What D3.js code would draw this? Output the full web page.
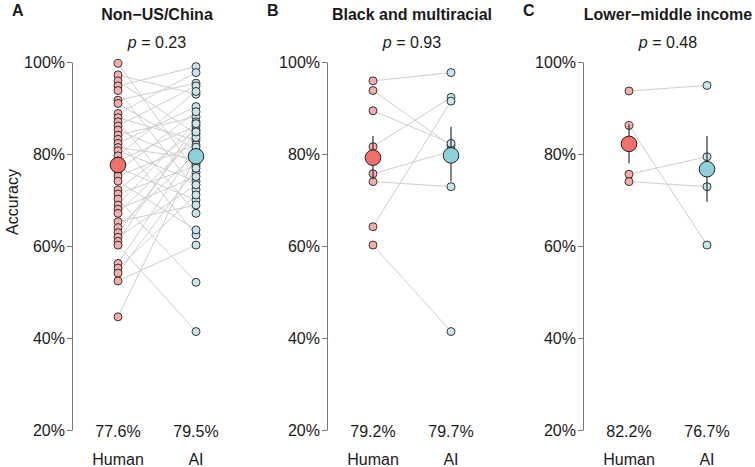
<!DOCTYPE html>
<html>
<head>
<meta charset="utf-8">
<script src="https://cdn.jsdelivr.net/npm/d3@7"></script>
<style>
body { margin: 0; background: #fff; }
text { font-family: "Liberation Sans", Arial, sans-serif; fill: #1a1a1a; }
</style>
</head>
<body>
<svg id="plot" width="755" height="467"></svg>
<script>
// groups shown in the three panels
const panels = ['A', 'B', 'C'];
const titles = ['Non\u2212US/China', 'Black and multiracial', 'Lower\u2212middle income'];
const pValues = ['0.23', '0.93', '0.48'];
const conditions = ['Human', 'AI'];
const yTicks = [20, 40, 60, 80, 100];

// paired accuracies (%), index i in human goes with index i in ai
const humanA = [99.7, 97.2, 95.9, 94.8, 93.8, 91.7, 91.0, 88.8, 87.9, 87.0, 86.1, 85.2, 84.1, 83.2, 82.3, 81.4, 80.7, 79.6, 78.5, 77.0,
  76.2, 75.2, 74.1, 72.2, 71.3, 70.2, 68.9, 68.0, 67.1, 65.3, 64.0, 62.9, 61.9, 61.0, 60.2, 56.2, 55.2, 54.1, 52.4, 44.6];
const aiA = [76.0, 93.0, 84.3, 99.0, 72.2, 95.4, 80.9, 97.7, 83.0, 67.1, 94.8, 78.0, 88.1, 62.4, 90.3, 79.0, 74.1, 93.6, 86.1, 70.0,
  89.2, 82.0, 63.5, 85.2, 77.5, 52.1, 87.0, 75.1, 83.6, 68.9, 80.2, 84.8, 73.3, 86.6, 41.4, 81.5, 71.1, 76.9, 60.2, 79.6];
const humanB = [95.9, 93.8, 89.4, 81.6, 75.7, 74.0, 64.2, 60.2];
const aiB = [97.7, 81.8, 82.3, 92.3, 80.6, 72.9, 91.5, 41.4];
const humanC = [93.7, 86.2, 75.6, 74.0];
const aiC = [94.9, 60.2, 79.4, 72.9];

// group means and error bar ends (%)
const humanMean = [77.6, 79.2, 82.2];
const aiMean = [79.5, 79.7, 76.7];
const humanLo = [76.0, 74.5, 78.0];
const humanHi = [79.2, 83.9, 86.4];
const aiLo = [78.0, 74.0, 69.6];
const aiHi = [81.0, 85.9, 83.9];

const humanSets = [humanA, humanB, humanC];
const aiSets = [aiA, aiB, aiC];

const svg = d3.select('#plot');
const axisX = [72, 327, 583];

const yScale = d3.scaleLinear()
  .domain([20, 100])
  .range([430, 62]);

const col = {
  humanPt: '#f5aeaa', humanMean: '#f2706a',
  aiPt: '#c7e6ee', aiMean: '#8fcfd9'
};

panels.forEach((letter, p) => {
  const x0 = axisX[p];
  const xScale = d3.scalePoint()
    .domain(conditions)
    .range([x0 + 46, x0 + 124]);
  const mid = (xScale('Human') + xScale('AI')) / 2;

  const g = svg.append('g');

  // y axis
  const axis = g.append('g')
    .attr('transform', `translate(${x0}, 0)`)
    .call(d3.axisLeft(yScale)
      .tickValues(yTicks)
      .tickFormat((d) => d + '%')
      .tickSize(5)
      .tickSizeOuter(0));
  axis.select('.domain').attr('stroke', '#777');
  axis.selectAll('.tick line').attr('stroke', '#777');
  axis.selectAll('.tick text')
    .attr('font-size', 16)
    .attr('font-family', '"Liberation Sans", Arial, sans-serif')
    .attr('fill', '#1a1a1a')
    .attr('x', -7);

  // headings
  g.append('text')
    .attr('x', x0 - 60)
    .attr('y', 16)
    .attr('font-size', 16)
    .attr('font-weight', 'bold')
    .text(letter);

  g.append('text')
    .attr('x', mid)
    .attr('y', 20)
    .attr('text-anchor', 'middle')
    .attr('font-size', 16)
    .attr('font-weight', 'bold')
    .text(titles[p]);

  const pt = g.append('text')
    .attr('x', mid)
    .attr('y', 48)
    .attr('text-anchor', 'middle')
    .attr('font-size', 16);
  pt.append('tspan').attr('font-style', 'italic').text('p');
  pt.append('tspan').text(' = ' + pValues[p]);

  const hum = humanSets[p];
  const ai = aiSets[p];
  const pairs = hum.map((h, i) => ({ h: h, a: ai[i] }));

  // paired lines
  g.selectAll('.pair')
    .data(pairs)
    .enter()
    .append('line')
    .attr('x1', xScale('Human'))
    .attr('x2', xScale('AI'))
    .attr('y1', (d) => yScale(d.h))
    .attr('y2', (d) => yScale(d.a))
    .attr('stroke', '#cfcfcf')
    .attr('stroke-width', 1);

  // individual points
  g.selectAll('.hpt')
    .data(hum)
    .enter()
    .append('circle')
    .attr('cx', xScale('Human'))
    .attr('cy', (d) => yScale(d))
    .attr('r', 4)
    .attr('fill', col.humanPt)
    .attr('stroke', '#222')
    .attr('stroke-width', 0.9);

  g.selectAll('.apt')
    .data(ai)
    .enter()
    .append('circle')
    .attr('cx', xScale('AI'))
    .attr('cy', (d) => yScale(d))
    .attr('r', 4)
    .attr('fill', col.aiPt)
    .attr('stroke', '#222')
    .attr('stroke-width', 0.9);

  // error bars + means
  const summary = [
    { c: 'Human', m: humanMean[p], lo: humanLo[p], hi: humanHi[p], fill: col.humanMean },
    { c: 'AI', m: aiMean[p], lo: aiLo[p], hi: aiHi[p], fill: col.aiMean }
  ];

  g.selectAll('.err')
    .data(summary)
    .enter()
    .append('line')
    .attr('x1', (d) => xScale(d.c))
    .attr('x2', (d) => xScale(d.c))
    .attr('y1', (d) => yScale(d.lo))
    .attr('y2', (d) => yScale(d.hi))
    .attr('stroke', '#222')
    .attr('stroke-width', 1.1);

  g.selectAll('.mean')
    .data(summary)
    .enter()
    .append('circle')
    .attr('cx', (d) => xScale(d.c))
    .attr('cy', (d) => yScale(d.m))
    .attr('r', 7.8)
    .attr('fill', (d) => d.fill)
    .attr('stroke', '#222')
    .attr('stroke-width', 1);

  // mean labels and condition names
  g.selectAll('.mlab')
    .data(summary)
    .enter()
    .append('text')
    .attr('x', (d) => xScale(d.c))
    .attr('y', 437)
    .attr('text-anchor', 'middle')
    .attr('font-size', 16)
    .text((d) => d.m.toFixed(1) + '%');

  g.selectAll('.clab')
    .data(conditions)
    .enter()
    .append('text')
    .attr('x', (d) => xScale(d))
    .attr('y', 465)
    .attr('text-anchor', 'middle')
    .attr('font-size', 16)
    .text((d) => d);
});

svg.append('text')
  .attr('transform', 'translate(18, 202) rotate(-90)')
  .attr('text-anchor', 'middle')
  .attr('font-size', 16)
  .text('Accuracy');
</script>
</body>
</html>
